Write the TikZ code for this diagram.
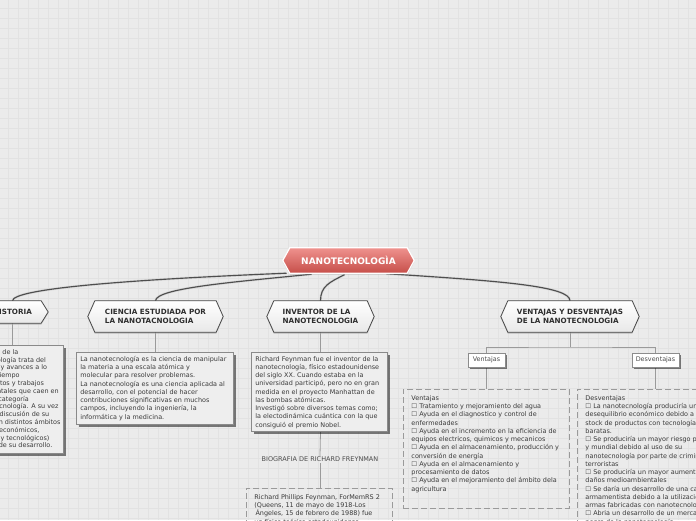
\documentclass[tikz,border=0pt]{standalone}
\usepackage{fontspec}
\setmainfont{DejaVu Sans}
\usetikzlibrary{calc,shadows}
\pgfdeclarelayer{back}
\pgfdeclarelayer{shapes}
\pgfsetlayers{back,shapes,main}
\definecolor{bgc}{HTML}{EBEBEB}
\definecolor{gridc}{HTML}{E2E2E2}
\definecolor{linec}{HTML}{4E4E4E}
\definecolor{thinc}{HTML}{9A9A9A}
\definecolor{boxc}{HTML}{EEEEEE}
\definecolor{boxborder}{HTML}{8A8A8A}
\definecolor{redtop}{HTML}{EF928E}
\definecolor{redbot}{HTML}{C64E49}
\definecolor{txt}{HTML}{3A3A3A}
\definecolor{txthd}{HTML}{2E2E2E}
\newcommand\bodyfont{\fontsize{6.45}{8.25}\selectfont}
\newcommand\mpbox[3]{\begin{minipage}[t][#2][t]{#1}\raggedright\bodyfont #3\end{minipage}}
\newcommand\hexpath[2]{(#1.west) -- ([xshift=#2]#1.north west) -- ([xshift=-#2]#1.north east) -- (#1.east) -- ([xshift=-#2]#1.south east) -- ([xshift=#2]#1.south west) -- cycle}
\begin{document}
\begin{tikzpicture}[x=1pt,y=-1pt,
  hdr/.style={align=left, font=\fontsize{7.2}{8.3}\selectfont\bfseries, text=txthd, inner sep=0pt},
  hexfill/.style={top color=white, bottom color=black!9, draw=black!72, line width=0.8pt},
  hexshadow/.style={fill=black!35, opacity=.45, transform canvas={yshift=-1.6pt}},
  tbox/.style={draw=boxborder, fill=boxc, line width=0.6pt, inner sep=4pt, anchor=north west, text=txt,
    drop shadow={shadow xshift=2.2pt, shadow yshift=-2.2pt, opacity=.5, fill=black}},
  dbox/.style={draw=thinc, dash pattern=on 6pt off 3pt, line width=0.9pt, anchor=north west, text=txt, inner xsep=8pt, inner ysep=6pt},
  lbl/.style={draw=black!45, fill=white, line width=0.5pt, font=\fontsize{6.4}{7.5}\selectfont, text=black!70, inner xsep=2pt, inner ysep=0pt, minimum height=14pt,
    drop shadow={shadow xshift=1.5pt, shadow yshift=-1.5pt, opacity=.5, fill=black}},
  curve/.style={draw=linec, line width=1.15pt, preaction={draw=black!25, line width=2.6pt, opacity=.35}},
  vline/.style={draw=thinc, line width=0.8pt}]
\useasboundingbox (0,0) rectangle (696,520);
\begin{pgfonlayer}{back}
  \fill[bgc] (0,0) rectangle (696,520);
  \foreach \i in {0,...,69} \draw[gridc,line width=.8pt] ({8.3+10*\i},0) -- ({8.3+10*\i},520);
  \foreach \j in {0,...,51} \draw[gridc,line width=.8pt] (0,{8.3+10*\j}) -- (696,{8.3+10*\j});
\end{pgfonlayer}

% ---------- title ----------
\node[minimum width=131pt, minimum height=25pt, inner sep=0pt, font=\fontsize{9}{10}\selectfont\bfseries, text=white] (title) at (348.5,260.5) {NANOTECNOLOGÌA};

% ---------- level-1 headers ----------
\node[hdr, minimum width=71pt, minimum height=22pt] (hist) at (12.5,312) {HISTORIA};
\node[hdr, minimum width=135pt, minimum height=31pt] (cien) at (155.5,316.5) {CIENCIA ESTUDIADA POR\\LA NANOTACNOLOGIA};
\node[hdr, minimum width=107pt, minimum height=31pt] (inv) at (320.5,316.5) {INVENTOR DE LA\\NANOTECNOLOGIA};
\node[hdr, minimum width=138pt, minimum height=31pt] (vent) at (570,316.5) {VENTAJAS Y DESVENTAJAS\\DE LA NANOTECNOLOGIA};

\begin{pgfonlayer}{shapes}
  \fill[black!40, opacity=.45, transform canvas={yshift=-1.5pt}] \hexpath{title}{7pt};
  \shadedraw[top color=redtop, bottom color=redbot, draw=white, line width=1.2pt] \hexpath{title}{7pt};
  \foreach \n in {hist,cien,inv,vent}{
    \fill[hexshadow] \hexpath{\n}{7pt};
    \shadedraw[hexfill] \hexpath{\n}{7pt};
  }
\end{pgfonlayer}

% ---------- text boxes ----------
\node[tbox, anchor=north east, inner xsep=3pt] (hbox) at (64,345) {\mpbox{94pt}{100pt}{\fontsize{6.45}{7.8}\selectfont
La historia de la\\
nanotecnología trata del\\
desarrollo y avances a lo\\
largo del tiempo\\
de conceptos y trabajos\\
\mbox{experimentales que caen en}\\
la amplia categoría\\
de nanotecnología. A su vez\\
incluye la discusión de su\\
\mbox{impacto en distintos ámbitos}\\
(sociales, económicos,\\
culturales y tecnológicos)\\
a lo largo de su desarrollo.}};

\node[tbox] (cbox) at (76,352) {\mpbox{149pt}{64pt}{%
La nanotecnología es la ciencia de manipular\\
la materia a una escala atómica y\\
molecular para resolver problemas.\\
La nanotecnología es una ciencia aplicada al\\
desarrollo, con el potencial de hacer\\
contribuciones significativas en muchos\\
campos, incluyendo la ingeniería, la\\
informática y la medicina.}};

\node[tbox] (ibox) at (251,352) {\mpbox{128pt}{71pt}{%
Richard Feynman fue el inventor de la\\
nanotecnología, físico estadounidense\\
del siglo XX. Cuando estaba en la\\
universidad participó, pero no en gran\\
medida en el proyecto Manhattan de\\
las bombas atómicas.\\
Investigó sobre diversos temas como;\\
la electodinámica cuántica con la que\\
consiguió el premio Nobel.}};

\node[font=\fontsize{6.5}{7.5}\selectfont, text=black!70, inner sep=1pt] (bio) at (320,459.5) {BIOGRAFIA DE RICHARD FREYNMAN};

\node[dbox] (biobox) at (246,488) {\mpbox{130pt}{60pt}{%
Richard Phillips Feynman, ForMemRS 2\\
(Queens, 11 de mayo de 1918-Los\\
\,Ángeles, 15 de febrero de 1988) fue\\
un físico teórico estadounidense}};

% ---------- ventajas / desventajas ----------
\node[lbl, minimum width=37pt] (vlab) at (486.5,360) {Ventajas};
\node[lbl, minimum width=47pt] (dlab) at (655.5,360) {Desventajas};
\coordinate (vj) at (570,347);

\node[dbox] (vbox) at (403,389) {\mpbox{150pt}{107pt}{%
Ventajas\\
☐ Tratamiento y mejoramiento del agua\\
☐ Ayuda en el diagnostico y control de\\
enfermedades\\
\mbox{☐ Ayuda en el incremento en la eficiencia de}\\
equipos electricos, quimicos y mecanicos\\
\mbox{☐ Ayuda en el almacenamiento, producción y}\\
conversión de energía\\
☐ Ayuda en el almacenamiento y\\
procesamiento de datos\\
\mbox{☐ Ayuda en el mejoramiento del ámbito dela}\\
agricultura}};

\node[dbox] (dbox) at (577,389) {\mpbox{160pt}{135pt}{%
Desventajas\\
☐ La nanotecnología produciría un\\
desequilibrio económico debido a un\\
stock de productos con tecnología más\\
baratas.\\
☐ Se produciría un mayor riesgo político\\
y mundial debido al uso de su\\
nanotecnología por parte de criminales\\
terroristas\\
☐ Se produciría un mayor aumento de\\
daños medioambientales\\
☐ Se daría un desarrollo de una carrera\\
armamentista debido a la utilización de\\
armas fabricadas con nanotecnología\\
☐ Abria un desarrollo de un mercado\\
negro de la nanotecnología}};

% ---------- connectors ----------
\begin{pgfonlayer}{back}
  \draw[curve] ($(title.south)+(-62,0)$) .. controls (120,280) and (13,289) .. (hist.north);
  \draw[curve] ($(title.south)+(-37,1)$) .. controls (235,282) and (156,288) .. (cien.north);
  \draw[curve] ($(title.south)+(-4,1.5)$) .. controls (330,282) and (320.5,286) .. (inv.north);
  \draw[curve] ($(title.south)+(38,0.5)$) .. controls (500,281) and (570,286) .. (vent.north);

  \draw[vline] (hist.south) -- (hist.south |- hbox.north);
  \draw[vline] (cien.south) -- (cien.south |- cbox.north);
  \draw[vline] (inv.south) -- (inv.south |- ibox.north);
  \draw[vline] (inv.south |- ibox.south) -- (bio.north);
  \draw[vline] (bio.south) -- (bio.south |- biobox.north);
  \draw[vline] (vent.south) -- (vj);
  \draw[vline] (vlab.north) |- (vj) -| (dlab.north);
  \draw[vline] (vlab.south) -- (vlab.south |- vbox.north);
  \draw[vline] (dlab.south) -- (dlab.south |- dbox.north);
\end{pgfonlayer}
\end{tikzpicture}
\end{document}
